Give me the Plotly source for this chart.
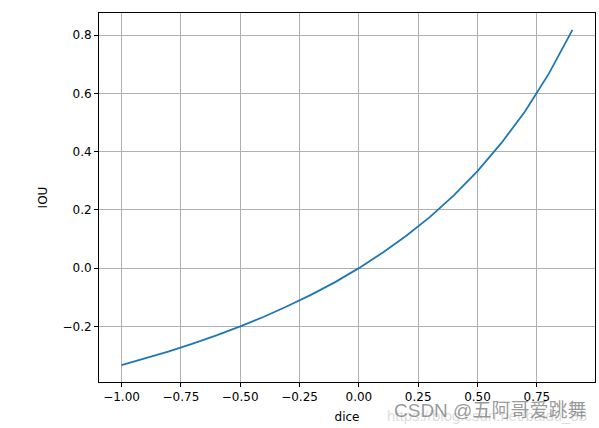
import plotly.graph_objects as go

dice = [-1.0, -0.9, -0.8, -0.7, -0.6, -0.5, -0.4, -0.3, -0.2, -0.1,
        0.0, 0.1, 0.2, 0.3, 0.4, 0.5, 0.6, 0.7, 0.8, 0.9]
iou = [-0.333, -0.310, -0.286, -0.259, -0.231, -0.200, -0.167, -0.130, -0.091, -0.048,
       0.0, 0.053, 0.111, 0.176, 0.250, 0.333, 0.429, 0.538, 0.667, 0.818]

x_ticks = [-1.0, -0.75, -0.5, -0.25, 0.0, 0.25, 0.5, 0.75]
x_tick_labels = ["−1.00", "−0.75", "−0.50", "−0.25", "0.00", "0.25", "0.50", "0.75"]
y_ticks = [-0.2, 0.0, 0.2, 0.4, 0.6, 0.8]
y_tick_labels = ["−0.2", "0.0", "0.2", "0.4", "0.6", "0.8"]

fig = go.Figure()
fig.add_trace(go.Scatter(x=dice, y=iou, mode="lines",
                         line=dict(color="#1f77b4", width=1.8), showlegend=False))

axis_common = dict(showline=True, linecolor="black", linewidth=1, mirror=True,
                   showgrid=True, gridcolor="#b0b0b0", gridwidth=1,
                   ticks="outside", ticklen=4, tickcolor="black", tickwidth=1,
                   zeroline=False, tickfont=dict(size=12, color="black"))

fig.update_layout(
    width=599, height=428,
    margin=dict(l=99, r=4, t=13, b=46),
    paper_bgcolor="white", plot_bgcolor="white",
    font=dict(family="DejaVu Sans", size=12, color="black"),
    xaxis=dict(range=[-1.095, 0.995], tickvals=x_ticks, ticktext=x_tick_labels,
               title=dict(text="dice", font=dict(size=12), standoff=9), **axis_common),
    yaxis=dict(range=[-0.391, 0.876], tickvals=y_ticks, ticktext=y_tick_labels,
               title=dict(text="IOU", font=dict(size=12), standoff=12), **axis_common),
)

fig.add_annotation(text="https://blog.csdn.net/baidu_33", xref="paper", yref="paper",
                   x=0.577, y=-0.09, xanchor="left", yanchor="middle", showarrow=False,
                   font=dict(family="Liberation Sans", size=15, color="rgba(190,190,190,0.55)"))
fig.add_annotation(text="CSDN @五阿哥爱跳舞", xref="paper", yref="paper",
                   x=0.591, y=-0.076, xanchor="left", yanchor="middle", showarrow=False,
                   font=dict(family="Liberation Sans, Noto Sans CJK SC", size=19,
                             color="rgba(110,110,110,0.7)"))

fig.write_html("out.html", config={"displayModeBar": False},
               post_script="document.body.style.margin='0';")
